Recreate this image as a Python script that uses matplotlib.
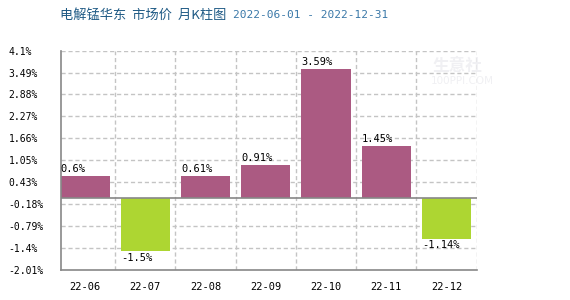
import matplotlib
matplotlib.use("Agg")
import matplotlib.pyplot as plt

plt.rcParams["font.family"] = ["DejaVu Sans Mono", "Noto Sans CJK SC"]
plt.rcParams["axes.unicode_minus"] = False

months = ["22-06", "22-07", "22-08", "22-09", "22-10", "22-11", "22-12"]
changes = [0.6, -1.5, 0.61, 0.91, 3.59, 1.45, -1.14]
yticks = [-2.01, -1.4, -0.79, -0.18, 0.43, 1.05, 1.66, 2.27, 2.88, 3.49, 4.1]
ytick_labels = ["-2.01%", "-1.4%", "-0.79%", "-0.18%", "0.43%", "1.05%",
                "1.66%", "2.27%", "2.88%", "3.49%", "4.1%"]
value_labels = ["0.6%", "-1.5%", "0.61%", "0.91%", "3.59%", "1.45%", "-1.14%"]

up_color = "#AB5A82"
down_color = "#ADD632"
grid_color = "#C4C4C4"
axis_color = "#888888"

fig = plt.figure(figsize=(5.7, 3.0), dpi=100)
ax = fig.add_axes([60.5 / 570, 1 - 269.7 / 300, (477 - 60.5) / 570, (269.7 - 50.7) / 300])

xs = list(range(len(months)))
w = 0.815
colors = [up_color if v >= 0 else down_color for v in changes]
ax.bar(xs, changes, width=w, color=colors, zorder=2)

ax.set_xlim(-0.407, 6.507)
ax.set_ylim(yticks[0], yticks[-1])

# 网格
for y in yticks[1:]:
    ax.axhline(y, color=grid_color, lw=1, ls=(0, (3, 2)), zorder=1)
for x in [i + 0.5 for i in range(len(months))]:
    ax.axvline(x, color=grid_color, lw=1, ls=(0, (3, 2)), zorder=1)
ax.axhline(0, color=axis_color, lw=1.2, zorder=3)

for s in ["top", "right"]:
    ax.spines[s].set_visible(False)
for s in ["left", "bottom"]:
    ax.spines[s].set_color(axis_color)
    ax.spines[s].set_linewidth(1.2)

ax.set_yticks(yticks)
ax.set_yticklabels(ytick_labels)
for lab in ax.get_yticklabels():
    lab.set_ha("left")
ax.tick_params(axis="y", length=0, pad=37.5, labelsize=7, colors="black")
ax.set_xticks(xs)
ax.set_xticklabels(months)
ax.tick_params(axis="x", length=0, pad=9, labelsize=7.5)

for x, v, t in zip(xs, changes, value_labels):
    if v >= 0:
        ax.text(x - w / 2, v + 0.05, t, ha="left", va="bottom", fontsize=7.5, zorder=4)
    else:
        ax.text(x - w / 2, v - 0.05, t, ha="left", va="top", fontsize=7.5, zorder=4)

# 水印 (在网格下面)
ax.text(432 / 570, 1 - 66 / 300, "生意社", fontsize=12, color="#F0F0F3",
        family=["Noto Sans CJK SC"], fontweight="bold", va="center",
        transform=fig.transFigure, clip_on=False, zorder=0.5)
ax.text(431 / 570, 1 - 81 / 300, "100PPI.COM", fontsize=7.5, color="#F0F0F3",
        family=["DejaVu Sans"], va="center",
        transform=fig.transFigure, clip_on=False, zorder=0.5)

fig.text(60.5 / 570, 1 - 15 / 300, "电解锰华东  市场价  月K柱图", color="#1F5A85",
         fontsize=9.5, va="center", ha="left", family=["Noto Sans CJK SC"])
fig.text(233 / 570, 1 - 15 / 300, "2022-06-01 - 2022-12-31", color="#3A78A8",
         fontsize=8, va="center", ha="left", family=["DejaVu Sans Mono"])

fig.savefig("out.png", dpi=100)
